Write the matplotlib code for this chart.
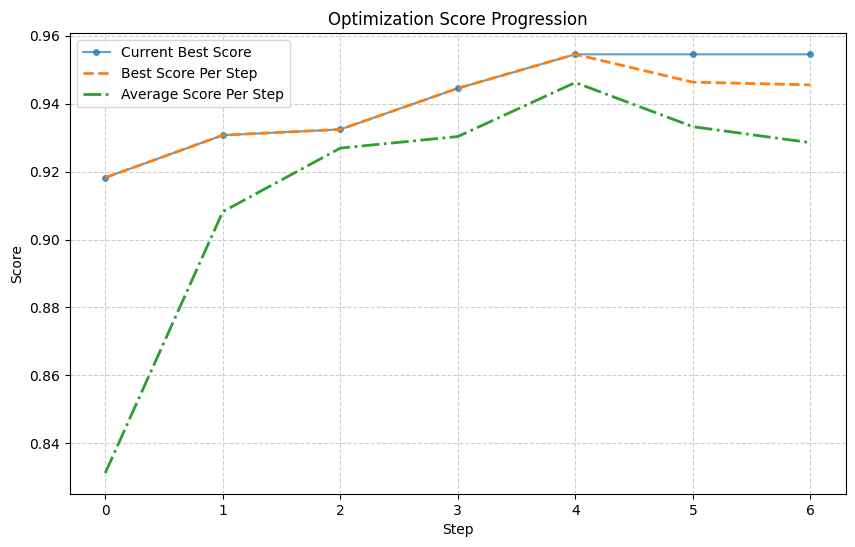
import matplotlib
matplotlib.use("Agg")
import matplotlib.pyplot as plt

steps = [0, 1, 2, 3, 4, 5, 6]
current_best = [0.9182, 0.9307, 0.9324, 0.9445, 0.9545, 0.9545, 0.9545]
best_per_step = [0.9182, 0.9307, 0.9324, 0.9445, 0.9545, 0.9463, 0.9455]
avg_per_step = [0.8313, 0.9082, 0.9269, 0.9303, 0.9462, 0.9332, 0.9285]

fig, ax = plt.subplots(figsize=(8.55, 5.47), dpi=100)
ax.plot(steps, current_best, marker="o", markersize=4, alpha=0.7, label="Current Best Score")
ax.plot(steps, best_per_step, linestyle="--", linewidth=2, label="Best Score Per Step")
ax.plot(steps, avg_per_step, linestyle="-.", linewidth=2, label="Average Score Per Step")
ax.set_title("Optimization Score Progression")
ax.set_xlabel("Step")
ax.set_ylabel("Score")
ax.grid(True, linestyle="--", alpha=0.6)
ax.legend(loc="upper left")
fig.subplots_adjust(left=0.0819, right=0.989, top=0.939, bottom=0.097)
fig.savefig("out.png")
